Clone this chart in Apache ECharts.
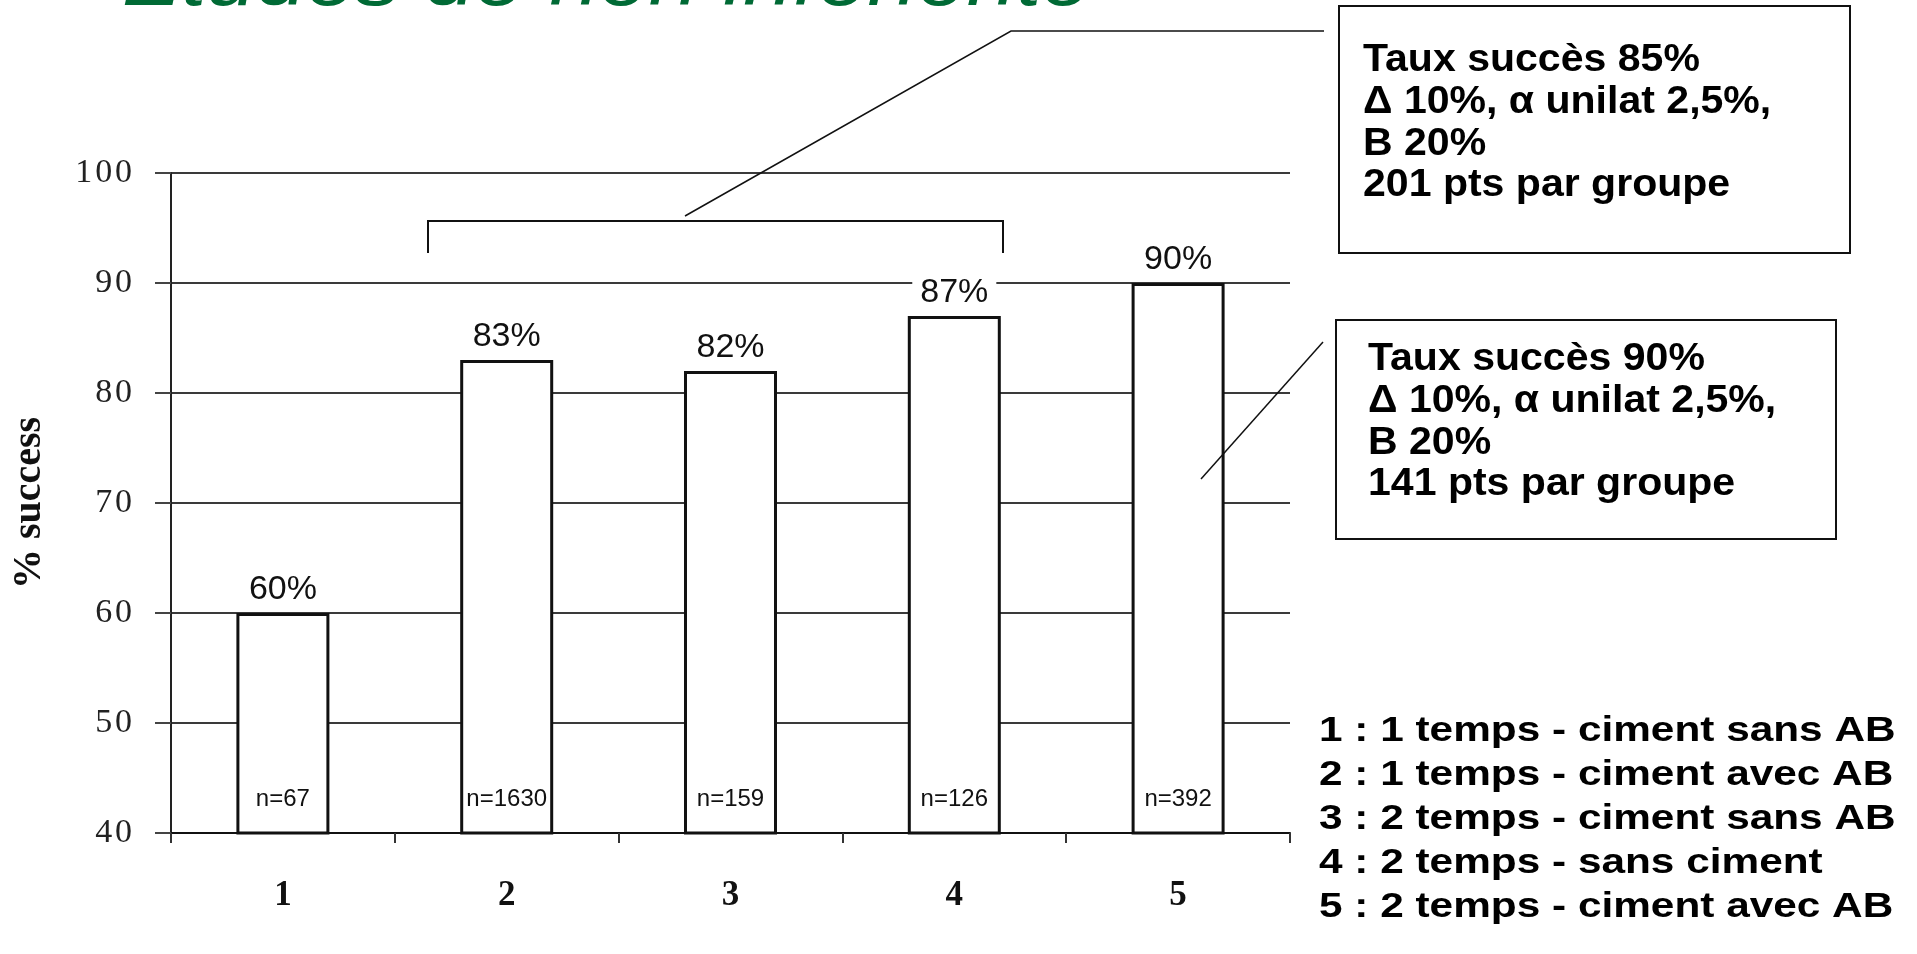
<!DOCTYPE html>
<html>
<head>
<meta charset="utf-8">
<script src="https://cdn.jsdelivr.net/npm/echarts@6/dist/echarts.min.js"></script>
<style>
  html, body { margin: 0; padding: 0; background: #fff; }
  #chart { width: 1917px; height: 954px; }
</style>
</head>
<body>
<div id="chart"></div>
<script>
// ---- data ----
const categories = ['1', '2', '3', '4', '5'];
const successRates = [60, 83, 82, 87, 90];
const sampleSizes = [67, 1630, 159, 126, 392];
const yMin = 40, yMax = 100, yStep = 10;
const yAxisTitle = '% success';
const titleText = 'Etudes de non infériorité';
const box1Lines = ['Taux succès 85%', 'Δ 10%, α unilat 2,5%,', 'B 20%', '201 pts par groupe'];
const box2Lines = ['Taux succès 90%', 'Δ 10%, α unilat 2,5%,', 'B 20%', '141 pts par groupe'];
const legendLines = [
  '1 : 1 temps - ciment sans AB',
  '2 : 1 temps - ciment avec AB',
  '3 : 2 temps - ciment sans AB',
  '4 : 2 temps - sans ciment',
  '5 : 2 temps - ciment avec AB'
];

const SANS = '"Liberation Sans", Arial, sans-serif';
const SERIF = '"Liberation Serif", "Times New Roman", serif';

function textLines(lines, x, y0, step, size, scaleX) {
  return lines.map((t, i) => ({
    type: 'text', x: x, y: y0 + i * step, scaleX: scaleX, silent: true, z: 100,
    style: { text: t, fill: '#000', font: 'bold ' + size + 'px ' + SANS, align: 'left', verticalAlign: 'middle' }
  }));
}

const chart = echarts.init(document.getElementById('chart'), null, { renderer: 'canvas' });

const graphics = [
  // partially visible title (cut by the top edge)
  { type: 'text', x: 122, y: -17, scaleX: 1.146, silent: true, z: 100,
    style: { text: titleText, fill: '#006A35', font: 'italic 78px ' + SANS, align: 'left', verticalAlign: 'middle' } },
  // bracket over groups 2-4
  { type: 'polyline', silent: true, z: 100, shape: { points: [[428, 253], [428, 221], [1003, 221], [1003, 253]] },
    style: { stroke: '#111', lineWidth: 2, fill: null } },
  // leader to box 1
  { type: 'polyline', silent: true, z: 100, shape: { points: [[685, 216], [1011, 31], [1324, 31]] },
    style: { stroke: '#111', lineWidth: 1.5, fill: null } },
  // leader to box 2
  { type: 'line', silent: true, z: 100, shape: { x1: 1323, y1: 342, x2: 1201, y2: 479 },
    style: { stroke: '#111', lineWidth: 1.5 } },
  // boxes
  { type: 'rect', silent: true, z: 99, shape: { x: 1339, y: 6, width: 511, height: 247 },
    style: { stroke: '#111', lineWidth: 2, fill: '#fff' } },
  { type: 'rect', silent: true, z: 99, shape: { x: 1336, y: 320, width: 500, height: 219 },
    style: { stroke: '#111', lineWidth: 2, fill: '#fff' } }
].concat(
  textLines(box1Lines, 1363, 61, 41.6, 38, 1.08),
  textLines(box2Lines, 1368, 360, 41.6, 38, 1.08),
  textLines(legendLines, 1319, 731, 44, 35, 1.21)
);

chart.setOption({
  animation: false,
  backgroundColor: '#fff',
  grid: { left: 171, top: 173, right: 627, bottom: 121, containLabel: false },
  xAxis: {
    type: 'category',
    data: categories,
    boundaryGap: true,
    axisLine: { show: true, lineStyle: { color: '#111', width: 2 } },
    axisTick: { show: true, inside: false, length: 10, lineStyle: { color: '#333', width: 2 } },
    axisLabel: { margin: 45, fontFamily: SERIF, fontWeight: 'bold', fontSize: 35, lineHeight: 35, color: '#111' },
    splitLine: { show: false }
  },
  yAxis: {
    type: 'value',
    min: yMin, max: yMax, interval: yStep,
    name: yAxisTitle,
    nameLocation: 'middle',
    nameRotate: 90,
    nameGap: 121,
    nameTextStyle: { fontFamily: SERIF, fontWeight: 'bold', fontSize: 40, color: '#111' },
    axisLine: { show: true, lineStyle: { color: '#222', width: 2 } },
    axisTick: { show: true, inside: false, length: 16, lineStyle: { color: '#444', width: 2 } },
    axisLabel: {
      margin: 39, fontFamily: SERIF, fontSize: 34, lineHeight: 34, color: '#222',
      formatter: v => String(v).split('').join('\u200A')
    },
    splitLine: { show: true, lineStyle: { color: '#3a3a3a', width: 2 } }
  },
  series: [
    {
      type: 'bar',
      data: successRates,
      barWidth: 93,
      itemStyle: { color: '#fff', borderColor: '#111', borderWidth: 3 },
      label: {
        show: true, position: 'top', distance: 4,
        formatter: p => p.value + '%',
        fontFamily: SANS, fontSize: 34, lineHeight: 34, color: '#111',
        backgroundColor: '#fff', padding: [2, 8]
      },
      z: 3
    },
    {
      type: 'bar',
      data: successRates,
      barWidth: 93,
      barGap: '-100%',
      silent: true,
      itemStyle: { color: 'rgba(0,0,0,0)', borderWidth: 0 },
      label: {
        show: true, position: 'insideBottom', distance: 22,
        formatter: p => 'n=' + sampleSizes[p.dataIndex],
        fontFamily: SANS, fontSize: 24, lineHeight: 24, color: '#111'
      },
      z: 4
    }
  ],
  graphic: { elements: graphics }
});
</script>
</body>
</html>
